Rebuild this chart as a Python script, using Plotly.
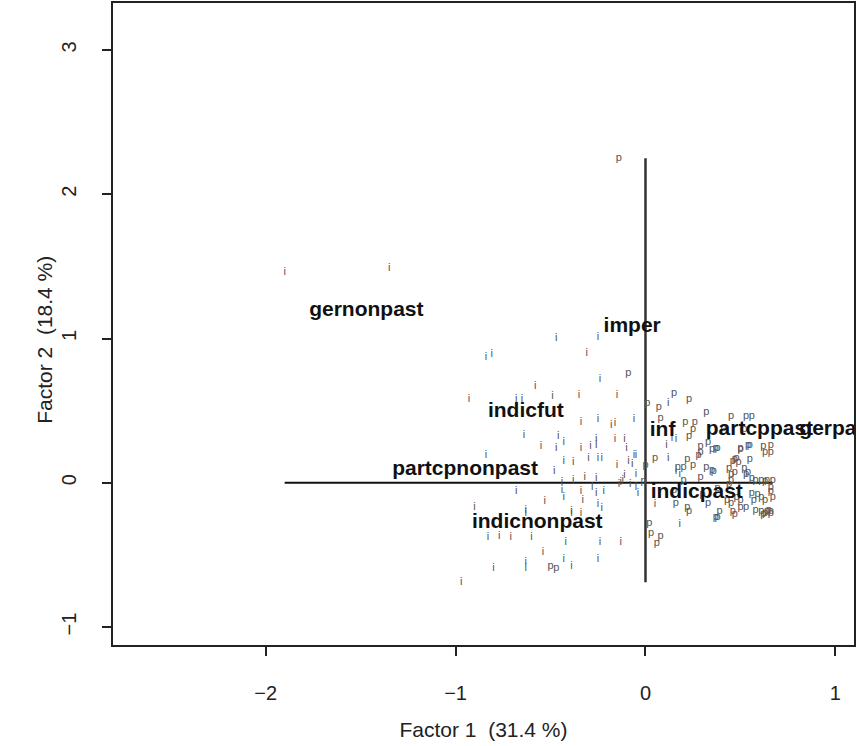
import plotly.graph_objects as go

# Observation points: imperfective ("i") and perfective ("p")
i_x = [-1.90, -1.35, -0.47, -0.25, -0.84, -0.81, -0.31, -0.24, -0.58, -0.49, -0.35, -0.15,
       -0.93, -0.68, -0.65, -0.34, -0.25, -0.18, -0.16, -0.06, -0.64, -0.46, -0.43, -0.55,
       -0.47, -0.34, -0.29, -0.26, -0.26, -0.16, -0.10, 0.11, -0.84, -0.43, -0.38, -0.30,
       -0.25, -0.23, -0.15, -0.09, -0.07, -0.06, -0.05, -0.48, -0.38, -0.32, -0.26, -0.11,
       -0.12, -0.05, -0.44, -0.14, -0.13, -0.08, -0.68, -0.44, -0.43, -0.34, -0.33, -0.28,
       -0.26, -0.22, -0.05, -0.04, 0.05, -0.53, -0.90, -0.63, -0.63, -0.39, -0.39, -0.34,
       -0.25, -0.23, -0.83, -0.77, -0.71, -0.60, -0.42, -0.24, -0.13, -0.54, -0.80, -0.63,
       -0.63, -0.43, -0.39, -0.25, -0.97, 0.12, 0.14, 0.16, -0.11, 0.12, 0.18, 0.16, 0.18]
i_y = [1.46, 1.49, 1.00, 1.01, 0.87, 0.89, 0.90, 0.72, 0.67, 0.60, 0.61, 0.61,
       0.58, 0.58, 0.58, 0.42, 0.44, 0.40, 0.41, 0.44, 0.33, 0.32, 0.28, 0.25,
       0.24, 0.24, 0.25, 0.30, 0.26, 0.30, 0.24, 0.26, 0.19, 0.15, 0.14, 0.17,
       0.17, 0.17, 0.12, 0.15, 0.13, 0.19, 0.19, 0.08, 0.02, 0.04, 0.03, 0.05,
       0.02, 0.06, 0.00, -0.01, 0.00, -0.01, -0.06, -0.05, -0.10, -0.06, -0.12, -0.03,
       -0.07, -0.06, -0.03, -0.07, -0.15, -0.13, -0.17, -0.19, -0.21, -0.20, -0.21, -0.21,
       -0.15, -0.18, -0.38, -0.37, -0.38, -0.38, -0.41, -0.41, -0.41, -0.48, -0.59, -0.55,
       -0.59, -0.53, -0.58, -0.53, -0.69, 0.55, 0.31, 0.30, 0.30, 0.17, -0.29, 0.08, 0.06]

p_x = [-0.14, -0.09, 0.01, 0.07, 0.15, 0.23, 0.32, 0.45, 0.53, 0.56, 0.21, 0.26,
       0.25, 0.23, 0.05, 0.29, 0.33, 0.38, 0.28, 0.29, 0.55, 0.62, 0.66, 0.63,
       0.66, 0.50, 0.47, 0.48, 0.46, 0.49, 0.55, 0.22, 0.25, 0.17, 0.20, 0.32,
       0.36, 0.29, 0.44, 0.45, 0.47, 0.52, 0.53, 0.54, 0.56, 0.58, 0.63, 0.20,
       -0.01, 0.44, 0.45, 0.66, 0.66, 0.56, 0.59, 0.61, 0.57, 0.63, 0.67, 0.43,
       0.45, 0.48, 0.50, 0.33, 0.50, 0.53, 0.22, 0.23, 0.16, 0.46, 0.47, 0.61,
       0.63, 0.65, 0.66, 0.62, 0.38, 0.02, 0.03, 0.08, 0.06, -0.50, -0.47, 0.00,
       0.35, 0.37, 0.50, 0.54, 0.35, 0.61, 0.64, 0.67, 0.58, 0.64, 0.66, 0.39,
       0.37, 0.41, 0.52, 0.08, 0.15, 0.30, 0.38]
p_y = [2.25, 0.76, 0.55, 0.52, 0.62, 0.58, 0.49, 0.46, 0.46, 0.46, 0.42, 0.42,
       0.37, 0.32, 0.17, 0.25, 0.28, 0.24, 0.19, 0.21, 0.26, 0.25, 0.26, 0.21,
       0.21, 0.24, 0.16, 0.17, 0.15, 0.14, 0.16, 0.16, 0.12, 0.11, 0.11, 0.11,
       0.08, 0.04, 0.10, 0.06, 0.07, 0.10, 0.06, 0.07, 0.03, 0.02, 0.01, 0.02,
       0.01, -0.01, 0.02, -0.03, -0.06, -0.07, -0.08, -0.10, -0.12, -0.12, -0.10, -0.12,
       -0.14, -0.10, -0.12, -0.14, -0.17, -0.17, -0.17, -0.20, -0.14, -0.20, -0.22, -0.20,
       -0.21, -0.19, -0.20, -0.22, -0.24, -0.28, -0.35, -0.37, -0.42, -0.58, -0.59, 0.12,
       0.23, 0.24, 0.23, 0.26, 0.09, 0.02, 0.02, 0.02, -0.19, -0.20, -0.21, -0.20,
       -0.24, 0.38, 0.37, 0.45, -0.05, -0.08, -0.04]

# Category (column) labels
cat_names = ["gernonpast", "imper", "indicfut", "inf", "partcppast", "gerpast",
             "partcpnonpast", "indicpast", "indicnonpast"]
cat_x = [-1.47, -0.07, -0.63, 0.09, 0.60, 1.01, -0.95, 0.27, -0.57]
cat_y = [1.19, 1.08, 0.49, 0.36, 0.37, 0.37, 0.09, -0.07, -0.28]

x_ticks = [-2, -1, 0, 1]
y_ticks = [-1, 0, 1, 2, 3]

FONT = "Liberation Sans, Arial, sans-serif"

all_x = i_x + p_x
all_y = i_y + p_y

fig = go.Figure()

# origin axes spanning the point cloud
fig.add_trace(go.Scatter(x=[min(all_x), max(all_x)], y=[0, 0], mode="lines",
                         line=dict(color="#111", width=2), hoverinfo="skip", showlegend=False))
fig.add_trace(go.Scatter(x=[0, 0], y=[min(all_y), max(all_y)], mode="lines",
                         line=dict(color="#333", width=2.5), hoverinfo="skip", showlegend=False))

fig.add_trace(go.Scatter(x=i_x, y=i_y, mode="text", text=["i"] * len(i_x),
                         textfont=dict(family=FONT, size=11, color="#555"),
                         showlegend=False))
fig.add_trace(go.Scatter(x=p_x, y=p_y, mode="text", text=["p"] * len(p_x),
                         textfont=dict(family=FONT, size=11, color="#555"),
                         showlegend=False))
fig.add_trace(go.Scatter(x=cat_x, y=cat_y, mode="text", text=cat_names,
                         textfont=dict(family=FONT, size=21, color="#111", weight="bold"),
                         showlegend=False))

fig.update_layout(
    width=857, height=746,
    margin=dict(l=113, r=1, t=3, b=101),
    plot_bgcolor="white", paper_bgcolor="white",
    font=dict(family=FONT, size=20, color="#222"),
    xaxis=dict(range=[-2.804, 1.098], tickvals=x_ticks, ticktext=["\u22122", "\u22121", "0", "1"],
               showgrid=False, zeroline=False, showline=True, mirror=True,
               linecolor="#222", linewidth=1.5, ticks="outside", ticklen=9,
               tickcolor="#222", tickwidth=1.5, ticklabelstandoff=20,
               title=dict(text="Factor 1  (31.4 %)", standoff=20, font=dict(size=21))),
    yaxis=dict(range=[-1.125, 3.326], tickvals=y_ticks, ticktext=["\u22121", "0", "1", "2", "3"],
               tickangle=-90,
               showgrid=False, zeroline=False, showline=True, mirror=True,
               linecolor="#222", linewidth=1.5, ticks="outside", ticklen=9,
               tickcolor="#222", tickwidth=1.5, ticklabelstandoff=18),
    annotations=[dict(text="Factor 2  (18.4 %)", xref="paper", yref="paper",
                      x=-0.1117, y=0.475, textangle=-90, showarrow=False,
                      font=dict(size=21, family=FONT, color="#222"))],
)

fig.write_html("out.html")
